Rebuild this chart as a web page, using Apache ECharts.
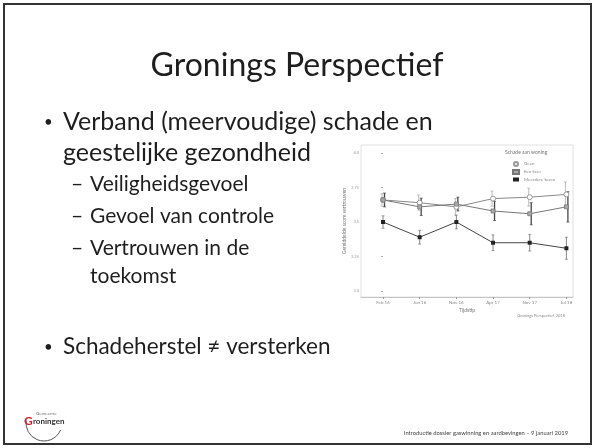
<!DOCTYPE html>
<html><head><meta charset="utf-8">
<script src="https://cdn.jsdelivr.net/npm/echarts@6/dist/echarts.min.js"></script>
<style>html,body{margin:0;padding:0;background:#fff}#c{width:595px;height:448px}</style>
</head><body><div id="c"></div>
<script>
// ---- data ----
const categories = ['Feb 16', 'Jun 16', 'Nov 16', 'Apr 17', 'Nov 17', 'Jul 18'];
const seriesNames = ['Geen', 'Een keer', 'Meerdere keren'];
const geen = [3.66, 3.64, 3.61, 3.67, 3.68, 3.70];
const geenErr = [0.045, 0.055, 0.06, 0.055, 0.065, 0.09];
const eenKeer = [3.66, 3.61, 3.63, 3.58, 3.56, 3.61];
const eenKeerErr = [0.05, 0.063, 0.05, 0.07, 0.08, 0.11];
const meerdere = [3.50, 3.39, 3.50, 3.35, 3.35, 3.31];
const meerdereErr = [0.045, 0.05, 0.05, 0.057, 0.06, 0.08];
const yTicks = [3.0, 3.25, 3.5, 3.75, 4.0];
const yTickLabels = ['3.0', '3.25', '3.5', '3.75', '4.0'];

const chart = echarts.init(document.getElementById('c'), null, {renderer: 'canvas'});
const idx = categories.map((_, i) => i);

function pts(vals) { return vals.map((v, i) => [i, v]); }
function errData(vals, errs) { return vals.map((v, i) => [i, v - errs[i], v + errs[i]]); }
function errSeries(vals, errs, color, dx, w) {
  return {
    type: 'custom', silent: true, z: 3,
    data: errData(vals, errs),
    renderItem: function (params, api) {
      const lo = api.coord([api.value(0), api.value(1)]);
      const hi = api.coord([api.value(0), api.value(2)]);
      const x = lo[0] + dx;
      return {type: 'group', children: [
        {type: 'line', shape: {x1: x, y1: lo[1], x2: x, y2: hi[1]}, style: {stroke: color, lineWidth: w}},
        {type: 'line', shape: {x1: x - 1.5, y1: lo[1], x2: x + 1.5, y2: lo[1]}, style: {stroke: color, lineWidth: 0.7}},
        {type: 'line', shape: {x1: x - 1.5, y1: hi[1], x2: x + 1.5, y2: hi[1]}, style: {stroke: color, lineWidth: 0.7}}
      ]};
    }
  };
}
const F = 'Lato, "Open Sans", sans-serif';
const txt = (x, y, s, size, extra) => ({type: 'text', x: x, y: y,
  style: Object.assign({text: s, fontFamily: F, fontSize: size, fill: '#1e1e1e', textVerticalAlign: 'middle'}, extra || {})});

chart.setOption({
  animation: false,
  grid: {left: 361, top: 145, right: 22, bottom: 151, show: true, borderColor: '#d8d8d8', borderWidth: 0.8},
  xAxis: {
    type: 'value', min: -0.6, max: 5.18,
    name: 'Tijdstip', nameLocation: 'middle', nameGap: 11,
    nameTextStyle: {fontSize: 5, color: '#777', fontFamily: F},
    axisLine: {show: true, lineStyle: {color: '#bbb', width: 0.8}},
    axisTick: {show: true, customValues: idx, length: 2, lineStyle: {color: '#999'}},
    axisLabel: {customValues: idx, formatter: v => categories[Math.round(v)], fontSize: 4.5, color: '#888', margin: 3, fontFamily: F},
    splitLine: {show: false}
  },
  yAxis: {
    type: 'value', min: 2.957, max: 4.058,
    name: 'Gemiddelde score vertrouwen', nameLocation: 'middle', nameGap: 10, nameRotate: 90,
    nameTextStyle: {fontSize: 5, color: '#777', fontFamily: F},
    axisLine: {show: false},
    axisTick: {show: true, customValues: yTicks, length: 2, lineStyle: {color: '#aaa'}},
    axisLabel: {customValues: yTicks, formatter: v => yTickLabels[yTicks.indexOf(v)] || '', fontSize: 4, color: '#999', margin: 2, fontFamily: F},
    splitLine: {show: false}
  },
  legend: {
    left: 507, top: 156, orient: 'vertical', itemGap: 2, itemWidth: 6, itemHeight: 4,
    textStyle: {fontSize: 4.5, color: '#888', fontFamily: F},
    data: [
      {name: seriesNames[0], icon: 'circle'},
      {name: seriesNames[1], icon: 'rect'},
      {name: seriesNames[2], icon: 'rect'}
    ]
  },
  series: [
    {name: seriesNames[0], type: 'line', data: pts(geen), symbol: 'circle', symbolSize: 5,
     itemStyle: {color: '#fff', borderColor: '#999', borderWidth: 1}, lineStyle: {color: '#888', width: 1}, z: 4},
    {name: seriesNames[1], type: 'line', data: pts(eenKeer), symbol: 'rect', symbolSize: 4,
     itemStyle: {color: '#aaa', borderColor: '#777', borderWidth: 0.8}, lineStyle: {color: '#777', width: 1}, z: 4},
    {name: seriesNames[2], type: 'line', data: pts(meerdere), symbol: 'rect', symbolSize: 4,
     itemStyle: {color: '#222'}, lineStyle: {color: '#444', width: 1}, z: 4},
    errSeries(geen, geenErr, '#aaa', -1, 0.8),
    errSeries(eenKeer, eenKeerErr, '#444', 1.5, 1.3),
    errSeries(meerdere, meerdereErr, '#777', 0, 0.9)
  ],
  graphic: [
    {type: 'rect', shape: {x: 4, y: 4, width: 587, height: 440}, style: {fill: 'none', stroke: '#333', lineWidth: 2}, z: -1},
    txt(297, 66, 'Gronings Perspectief', 32, {textAlign: 'center'}),
    txt(44, 122, '•', 15),
    txt(63, 122, 'Verband (meervoudige) schade en', 25),
    txt(63, 153, 'geestelijke gezondheid', 25),
    txt(71, 184, '–', 21), txt(90, 184, 'Veiligheidsgevoel', 21),
    txt(71, 216, '–', 21), txt(90, 216, 'Gevoel van controle', 21),
    txt(71, 248, '–', 21), txt(90, 248, 'Vertrouwen in de', 21),
    txt(90, 276, 'toekomst', 21),
    txt(44, 347, '•', 15),
    txt(63, 347, 'Schadeherstel ≠ versterken', 22.5),
    txt(505, 152, 'Schade aan woning', 5, {fill: '#777'}),
    txt(565, 316, 'Gronings Perspectief, 2018', 4, {fill: '#888', textAlign: 'right'}),
    txt(568, 433, 'Introductie dossier gaswinning en aardbevingen – 9 januari 2019', 5.8, {fill: '#444', textAlign: 'right'}),
    // logo
    {type: 'arc', shape: {cx: 44, cy: 423, r: 18, startAngle: 0.4, endAngle: 3.3}, style: {stroke: '#555', lineWidth: 1, fill: 'none'}},
    txt(36, 414, 'Gemeente', 4.5, {fill: '#777'}),
    txt(24, 421, 'G', 12, {fontWeight: 'bold', fill: '#d2232a'}),
    txt(33, 421, 'roningen', 8, {fontWeight: 'bold', fill: '#333'})
  ]
});
</script></body></html>
